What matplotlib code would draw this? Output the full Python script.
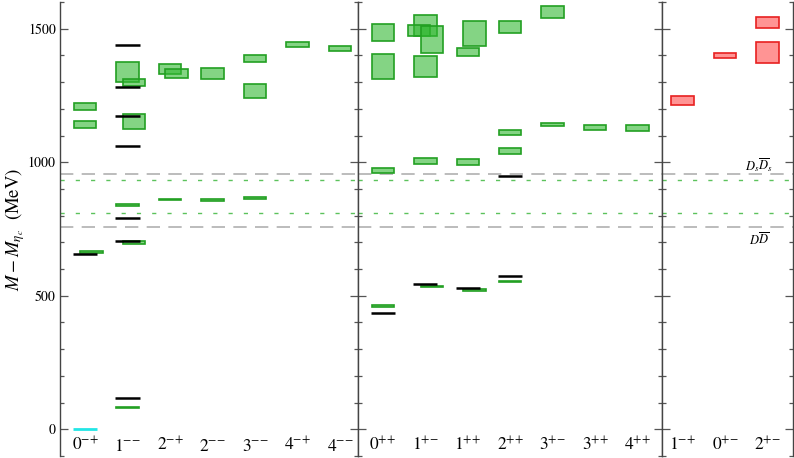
import matplotlib
matplotlib.use("Agg")
import matplotlib.pyplot as plt
from matplotlib.patches import Rectangle

plt.rcParams['font.family'] = ['STIXGeneral', 'DejaVu Serif']
plt.rcParams['mathtext.fontset'] = 'stix'

# ---------------- data ----------------
left_labels = ['0^{-+}', '1^{--}', '2^{-+}', '2^{--}', '3^{--}', '4^{-+}', '4^{--}']
mid_labels = ['0^{++}', '1^{+-}', '1^{++}', '2^{++}', '3^{+-}', '3^{++}', '4^{++}']
right_labels = ['1^{-+}', '0^{+-}', '2^{+-}']

# lattice boxes: category index, shift (-1 left / 0 centre / +1 right), mass, error
left_box_cat = [0, 0, 0, 1, 1, 1, 1, 1, 1, 2, 2, 2, 3, 3, 4, 4, 4, 5, 6]
left_box_shift = [0, 0, 1, 0, 1, 1, 0, 1, 0, 0, 1, 0, 0, 0, 0, 0, 0, 0, 0]
left_box_val = [1209, 1142, 663, 1338, 1298, 1152, 839, 700, 80, 1349, 1333, 860,
                1332, 858, 1390, 1267, 867, 1441, 1426]
left_box_err = [13, 14, 3, 37, 14, 29, 3, 5, 2, 17, 17, 3, 19, 3, 13, 27, 3, 10, 10]

left_exp_cat = [0, 1, 1, 1, 1, 1, 1, 1]
left_exp_val = [658, 1440, 1282, 1172, 1060, 793, 705, 117]
ref_cat = [0]
ref_val = [0]

mid_box_cat = [0, 0, 0, 0, 1, 1, 1, 1, 1, 1, 2, 2, 2, 2, 3, 3, 3, 3, 4, 4, 5, 6]
mid_box_shift = [0, 0, 0, 0, 0, -1, 1, 0, 0, 1, 1, 0, 0, 1, 0, 0, 0, 0, 0, 0, 0, 0]
mid_box_val = [1487, 1360, 970, 461, 1512, 1493, 1461, 1359, 1005, 534,
               1482, 1414, 1001, 522, 1507, 1111, 1041, 554, 1563, 1141, 1129, 1128]
mid_box_err = [32, 47, 10, 3, 39, 20, 51, 39, 10, 3,
               48, 15, 10, 3, 22, 9, 12, 3, 22, 7, 10, 10]

mid_exp_cat = [0, 1, 2, 3, 3]
mid_exp_val = [434, 545, 530, 948, 575]

right_box_cat = [0, 1, 2, 2]
right_box_val = [1231, 1401, 1523, 1410]
right_box_err = [16, 9.5, 19.5, 40]

thr_vals = [956, 757]          # D_s D_s bar, D D bar thresholds
thr_labels = [r'$D_s\overline{D}_s$', r'$D\overline{D}$']
thr2_vals = [935, 811]         # other thresholds (dotted)

# ---------------- styling ----------------
W, H = 794, 458
fig = plt.figure(figsize=(W / 100, H / 100), dpi=100)

x_left, x_b1, x_b2, x_right = 60, 357.5, 662, 793
y_top, y_bot = 2, 456


def make_ax(x0, x1):
    return fig.add_axes([x0 / W, (H - y_bot) / H, (x1 - x0) / W, (y_bot - y_top) / H])


axL = make_ax(x_left, x_b1)
axM = make_ax(x_b1, x_b2)
axR = make_ax(x_b2, x_right)

axL.set_xlim(-0.59, 6.41)
axM.set_xlim(-0.60, 6.58)
axR.set_xlim(-0.48, 2.60)

HALF = 0.265
SHIFT = 0.155
green_face = (0.20, 0.72, 0.20, 0.6)
green_edge = '#22a022'
red_face = (1.0, 0.32, 0.32, 0.62)
red_edge = '#e82020'


def draw_boxes(ax, cats, shifts, vals, errs, face, edge):
    for c, s, v, e in zip(cats, shifts, vals, errs):
        x0 = c + s * SHIFT - HALF
        ax.add_patch(Rectangle((x0, v - e), 2 * HALF, 2 * e, facecolor=face,
                               edgecolor=edge, lw=1.2, zorder=3))


def draw_lines(ax, cats, vals, color, lw=1.8):
    for c, v in zip(cats, vals):
        ax.plot([c - HALF - 0.02, c + HALF + 0.02], [v, v], color=color, lw=lw,
                solid_capstyle='butt', zorder=4)


def fmt_label(lab):
    base, sup = lab.split('^')
    sup = sup.strip('{}')
    return '$' + base + '^{' + ''.join('{' + ch + '}' for ch in sup) + '}$'


for ax in (axL, axM, axR):
    ax.set_ylim(-100, 1600)
    for v in thr_vals:
        ax.axhline(v, color='#b0b0b0', lw=1.2, dashes=(8, 5), zorder=1)
    for v in thr2_vals:
        ax.axhline(v, color='#5cc25c', lw=1.0, dashes=(3, 8), zorder=1)
    ax.spines['top'].set_visible(False)
    ax.spines['bottom'].set_visible(False)
    for sp in ('left', 'right'):
        ax.spines[sp].set_color('#444444')
        ax.spines[sp].set_linewidth(1.0)
    ax.set_xticks([])
    ax.set_yticks([0, 500, 1000, 1500])
    ax.set_yticks(range(-100, 1601, 100), minor=True)
    ax.tick_params(axis='y', which='both', direction='in', left=True, right=True,
                   color='#555555', width=0.9)
    ax.tick_params(axis='y', which='major', length=6)
    ax.tick_params(axis='y', which='minor', length=3)
    ax.tick_params(axis='y', labelleft=False, labelsize=10)

axL.tick_params(axis='y', labelleft=True, pad=3)

draw_boxes(axL, left_box_cat, left_box_shift, left_box_val, left_box_err, green_face, green_edge)
draw_lines(axL, left_exp_cat, left_exp_val, 'black')
draw_lines(axL, ref_cat, ref_val, '#22e6e6', lw=2.0)

draw_boxes(axM, mid_box_cat, mid_box_shift, mid_box_val, mid_box_err, green_face, green_edge)
draw_lines(axM, mid_exp_cat, mid_exp_val, 'black')

draw_boxes(axR, right_box_cat, [0] * len(right_box_cat), right_box_val, right_box_err,
           red_face, red_edge)

for ax, labs in ((axL, left_labels), (axM, mid_labels), (axR, right_labels)):
    for i, lab in enumerate(labs):
        ax.text(i, -80, fmt_label(lab), ha='center', va='baseline', fontsize=12.5)

axR.text(1.8, 972, thr_labels[0], ha='center', va='baseline', fontsize=9)
axR.text(1.8, 690, thr_labels[1], ha='center', va='baseline', fontsize=9)

fig.text(15 / W, 1 - 229 / H, r'$M - M_{\eta_c}$  (MeV)', fontsize=13.5,
         rotation=90, ha='center', va='center')

fig.savefig('out.png', dpi=100)
